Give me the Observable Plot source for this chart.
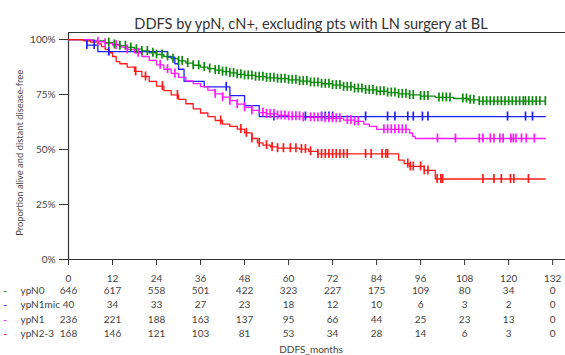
<!DOCTYPE html>
<html><head><meta charset="utf-8">
<script src="https://cdn.jsdelivr.net/npm/d3@7"></script>
<script src="https://cdn.jsdelivr.net/npm/@observablehq/plot@0.6"></script>
<style>body{margin:0;background:#fff}</style>
</head><body><div id="chart"></div>
<script>
const title = "DDFS by ypN, cN+, excluding pts with LN surgery at BL";
const yLabel = "Proportion alive and distant disease-free";
const xLabel = "DDFS_months";
const groups = ["ypN0", "ypN1mic", "ypN1", "ypN2-3"];
const colors = ["#0b8a0b", "#1f1fff", "#ff1aff", "#ff1a1a"];
const xTicks = [0, 12, 24, 36, 48, 60, 72, 84, 96, 108, 120, 132];
const yTicks = [0, 25, 50, 75, 100];

// Kaplan-Meier step points (months, % surviving)
const n0T = [0,4,7,10,12,14,16,18,20,22,24,26,28,30,32,34,36,38,40,42,44,46,48,51,54,57,60,63,66,69,72,75,78,81,84,87,90,93,96,100,105,109,112,130];
const n0S = [100,99.8,99.4,98.6,97.8,97.2,96.4,95.6,94.8,94,93.2,92.3,91.3,90.3,89.3,88.3,87.5,86.8,86.1,85.4,84.8,84.2,83.7,83.1,82.6,82.2,81.7,81.1,80.5,79.9,79.3,78.5,77.7,77.1,76.5,75.9,75.3,74.8,74.3,73.7,73.2,72.6,72.0,72.0];
const micT = [0,5,8,27,29,30,31.5,37,44,48,52,130];
const micS = [100,97.5,94.5,92,89,86.5,81,78.5,74.5,70,65,65];
const n1T = [0,6,8,10,12,14,16,18,20,22,24,26,28,30,32,34,36,38,40,42,44,46,48,50,52,54,57,60,64,70,75,78,80.5,82,84,93,93.8,94.5,130];
const n1S = [100,99.6,99,98.3,97.5,96.6,95.5,94,92.3,90.5,88.5,86.5,84.6,82.8,81.2,80,78.6,77,75.3,73.8,72.2,70.6,69.2,67.8,66.8,66.2,65.5,65.1,64.6,64.2,63.4,62.8,61.5,60.5,59.2,57.5,56,55,55];
const n23T = [0,4,6,8,9,10,11,12,13,14,16,18,20,22,24,26,28,30,32,34,36,38,40,42,44,46,48,50,51.5,53,55,57,63,65.5,68,90,91.5,93,97,100,130];
const n23S = [100,99.4,98.8,98,96.8,95.5,94,92.3,90,89,87.5,85.5,83.2,81,78.8,76.8,74.8,72.8,70.8,68.5,66.6,65,63.2,61.5,60.5,59.3,57.6,55,53,52,51.2,50.6,50.2,49.2,48,45.2,43.6,42.3,40.5,36.6,36.6];

// censoring times (months)
const n0C = [11,12.5,14,15.5,17,18.5,20,21.5,23,24,25.5,27,28.5,30,31,32.5,34,35.5,37,38.5,40,41,42,43,44,45,46,47,48,49,50,51,52,53,54,55,56,57,58,59,60,61,62,63,64,65,66,67,68,69,70,71,72,73,74,75,76,77,78,79,80,81,82,83,84,85,86,87,88,89,90,91,92,93,94,96,97,98,101,102,103,104,107.5,108.5,109.5,110.5,112,113,114,115,116,117,118,119,120,121,122,123,124,124.6,125.5,126.5,127.5,128.5,130];
const micC = [5,7,11,43,56,64.6,69,70,71,72,81,87,89,92.5,94,96.5,98,119.7,124.6,126.5];
const n1C = [8,10,13,16,19,25,27,29,40,42,44,46,48,50,53,54,55,56,57,58,59,60,61,62,63,64,66,67,68,69,70,71,72,73,74,76,77,78,79,86,87,88,89,90,91,92,100.6,105.5,112,113,115,116,117.6,118.5,120.6,121.3,122,123.5,124.8,127];
const n23C = [18.3,21,25.6,29.7,41.5,47,48.5,50,52,54,55.5,57,58.6,60.5,62,63.5,64.6,66,68,69,70,71,72,73,74,75,76,81,82.5,85.5,86.5,87,92.5,93.2,94,96,97,98,100.5,101.5,102,113,116,118,120.5,121.4,125.4];

// numbers at risk
const riskN0 = [646,617,558,501,422,323,227,175,109,80,34,0];
const riskMic = [40,34,33,27,23,18,12,10,6,3,2,0];
const riskN1 = [236,221,188,163,137,95,66,44,25,23,13,0];
const riskN23 = [168,146,121,103,81,53,34,28,14,6,3,0];

const series = [[n0T,n0S,n0C],[micT,micS,micC],[n1T,n1S,n1C],[n23T,n23S,n23C]];
const risks = [riskN0, riskMic, riskN1, riskN23];

function stepAt(T, S, t) {
  let v = S[0];
  for (let i = 0; i < T.length; i++) if (T[i] <= t) v = S[i];
  return v;
}

const lineMarks = [];
const censorMarks = [];
series.forEach(([T, S, C], g) => {
  const pts = T.map((t, i) => ({t, s: S[i]}));
  lineMarks.push(Plot.line(pts, {x: "t", y: "s", curve: "step-after", stroke: colors[g], strokeWidth: 1.3}));
  const cens = C.map(t => ({t, s: stepAt(T, S, t)}));
  censorMarks.push(Plot.ruleX(cens, {x: "t", y1: "s", y2: "s", insetTop: -4.5, insetBottom: -4.5, stroke: colors[g], strokeWidth: 1.7}));
});

const tableMarks = [];
risks.forEach((r, g) => {
  const dy = 34 + g * 14.6;
  tableMarks.push(Plot.text(r.map((v, i) => ({t: xTicks[i], v})), {x: "t", text: "v", frameAnchor: "bottom", dy, fontSize: 10, fill: "#444"}));
  tableMarks.push(Plot.text([groups[g]], {frameAnchor: "bottom-left", dx: -48, dy, textAnchor: "start", fontSize: 10, fill: "#444"}));
  tableMarks.push(Plot.text(["-"], {frameAnchor: "bottom-left", dx: -65, dy, fill: colors[g], fontSize: 9, fontWeight: "bold"}));
});

const chart = Plot.plot({
  width: 565, height: 355,
  marginLeft: 68, marginRight: 0, marginTop: 32, marginBottom: 96,
  x: {domain: [0, 135.5]},
  y: {domain: [0, 103.2]},
  style: {fontFamily: "Lato, 'Open Sans', sans-serif", fontSize: "10px", color: "#444", background: "#fff"},
  marks: [
    Plot.ruleY([103.2], {stroke: "#333", strokeWidth: 1.2}),
    Plot.ruleY([0], {stroke: "#333", strokeWidth: 1.2}),
    Plot.ruleX([0], {stroke: "#333", strokeWidth: 1.2}),
    Plot.axisX({ticks: xTicks, tickSize: 6, tickPadding: 9, label: null, stroke: "#333", fontSize: 10}),
    Plot.axisY({ticks: yTicks, tickSize: 9, tickPadding: 4, tickFormat: d => d + "%", label: null, stroke: "#333", fontSize: 10}),
    Plot.text([yLabel], {x: 0, y: 48.5, dx: -49, rotate: -90, fontSize: 9.4, fill: "#444"}),
    ...lineMarks,
    ...censorMarks,
    ...tableMarks,
    Plot.text([title], {frameAnchor: "top", dx: -6, dy: -14, fontSize: 14.6, fill: "#333"}),
    Plot.text([xLabel], {frameAnchor: "bottom", dx: -6, dy: 93, fontSize: 10, fill: "#444"})
  ]
});
document.getElementById("chart").appendChild(chart);
</script>
</body></html>
